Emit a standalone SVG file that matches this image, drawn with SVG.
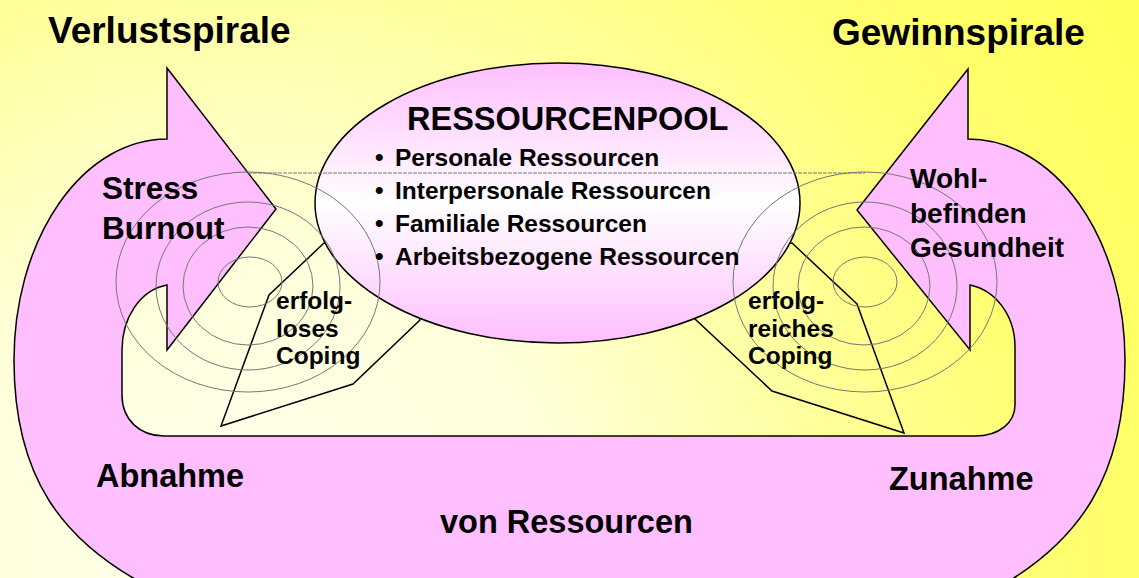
<svg xmlns="http://www.w3.org/2000/svg" width="1139" height="578" viewBox="0 0 1139 578">
  <defs>
    <radialGradient id="bg" gradientUnits="userSpaceOnUse" cx="250" cy="560" r="1050">
      <stop offset="0" stop-color="#ffffee"/>
      <stop offset="0.3" stop-color="#ffffdb"/>
      <stop offset="0.57" stop-color="#ffff99"/>
      <stop offset="0.75" stop-color="#ffff74"/>
      <stop offset="1" stop-color="#ffff58"/>
    </radialGradient>
    <linearGradient id="pool" x1="0" y1="0" x2="0" y2="1">
      <stop offset="0" stop-color="#ffbfff"/>
      <stop offset="0.5" stop-color="#ffffff"/>
      <stop offset="1" stop-color="#ffbfff"/>
    </linearGradient>
  </defs>
  <style>
    .shape { stroke: #000; stroke-width: 1.5; stroke-linejoin: miter; }
    .band { fill: #ffbfff; }
    .cope { fill: url(#bg); }
    .spiral { fill: none; stroke: #767676; stroke-width: 1; }
    text { font-family: "Liberation Sans", Arial, sans-serif; font-weight: bold; fill: #000; }
    .title { font-size: 37px; }
    .big { font-size: 32.5px; }
    .mid { font-size: 31.5px; }
    .wohl { font-size: 28px; }
    .small { font-size: 24.5px; }
  </style>

  <rect id="background" x="0" y="0" width="1139" height="578" fill="url(#bg)"/>

  <g id="titles">
    <text class="title" x="48" y="43">Verlustspirale</text>
    <text class="title" x="832" y="45">Gewinnspirale</text>
  </g>

  <g id="spiral-band">
    <path class="shape band" d="M 167,68 L 276,209 L 167,350 L 167,285 C 140,290 122,318 122,350 L 122,395 C 122,420 140,436 164,436 L 975,436 C 1000,436 1015,422 1015,405 L 1015,347 C 1015,315 995,290 970,285 L 970,350 L 857,210 L 968,69 L 968,139 A 157 221 0 0 1 1125 360 C 1125,470 1085,545 980,597 L 170,597 C 55,545 14,470 14,360 A 153 221 0 0 1 167 139 Z"/>
  </g>

  <g id="connectors">
    <path id="coping-loss" class="shape cope" d="M 324,243 L 269,295 L 221,426 L 353,384 L 420,320 L 400,250 Z"/>
    <path id="coping-gain" class="shape cope" d="M 792,243 L 857,304 L 904,433 L 772,391 L 695,319 L 715,250 Z"/>
  </g>

  <g id="ressourcenpool">
    <ellipse class="shape" cx="557.5" cy="203" rx="242.5" ry="140" fill="url(#pool)"/>
  </g>

  <g id="spirals">
    <ellipse class="spiral" cx="250" cy="282" rx="32" ry="25"/>
    <ellipse class="spiral" cx="248" cy="286" rx="65" ry="59"/>
    <ellipse class="spiral" cx="248" cy="286" rx="92" ry="84"/>
    <ellipse class="spiral" cx="248" cy="282" rx="132" ry="110"/>
    <ellipse class="spiral" cx="865" cy="282" rx="32" ry="25"/>
    <ellipse class="spiral" cx="864" cy="286" rx="66" ry="59"/>
    <ellipse class="spiral" cx="865" cy="286" rx="92" ry="84"/>
    <ellipse class="spiral" cx="865" cy="282" rx="132" ry="110"/>
    <line class="spiral" x1="248" y1="173" x2="865" y2="173" stroke-dasharray="4 1"/>
  </g>

  <g id="pool-text">
    <text class="big" x="407" y="130">RESSOURCENPOOL</text>
    <text class="small" x="375" y="166">•</text>
    <text class="small" x="395" y="166">Personale Ressourcen</text>
    <text class="small" x="375" y="199">•</text>
    <text class="small" x="395" y="199">Interpersonale Ressourcen</text>
    <text class="small" x="375" y="232">•</text>
    <text class="small" x="395" y="232">Familiale Ressourcen</text>
    <text class="small" x="375" y="265">•</text>
    <text class="small" x="395" y="265">Arbeitsbezogene Ressourcen</text>
  </g>

  <g id="loss-labels">
    <text class="mid" x="102" y="199">Stress</text>
    <text class="mid" x="102" y="239">Burnout</text>
    <text class="small" x="276" y="309">erfolg-</text>
    <text class="small" x="276" y="337">loses</text>
    <text class="small" x="276" y="364">Coping</text>
    <text class="big" x="96" y="487">Abnahme</text>
  </g>

  <g id="gain-labels">
    <text class="wohl" x="910" y="188">Wohl-</text>
    <text class="wohl" x="910" y="223">befinden</text>
    <text class="wohl" x="910" y="257">Gesundheit</text>
    <text class="small" x="748" y="309">erfolg-</text>
    <text class="small" x="748" y="337">reiches</text>
    <text class="small" x="748" y="364">Coping</text>
    <text class="big" x="889" y="490">Zunahme</text>
  </g>

  <g id="bottom-label">
    <text class="big" x="440" y="533">von Ressourcen</text>
  </g>
</svg>
